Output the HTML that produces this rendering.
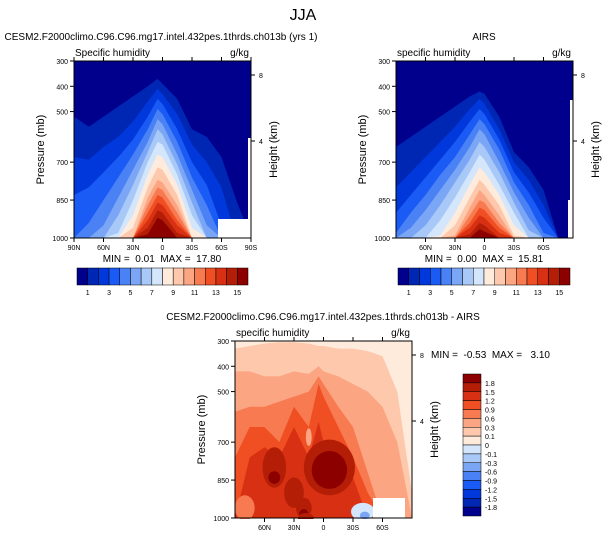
<!DOCTYPE html>
<html><head><meta charset="utf-8">
<style>
html,body{margin:0;padding:0;background:#fff;}
svg{display:block;font-family:"Liberation Sans",sans-serif;}
</style></head>
<body>
<svg id="c" width="606" height="538" viewBox="0 0 606 538" xmlns="http://www.w3.org/2000/svg"></svg>
<script>
const lats=[90,75,60,45,30,15,5,0,-15,-30,-45,-60,-75,-90];
const qColors=["#00008c","#0026b4","#0038dc","#1a5af5","#4a82f5","#7ba6f5","#a8c8f8","#d4e6fb","#feebdc","#fdc8ab","#fca583","#f87a50","#f04e23","#d83012","#b41e06","#8c0000"];
const qBarLabels=["1","3","5","7","9","11","13","15"];
const diffBarLabels=["1.8","1.5","1.2","0.9","0.6","0.3","0.1","0","-0.1","-0.3","-0.6","-0.9","-1.2","-1.5","-1.8"];
const modelLevels=[
[520,560,520,480,440,400,370,390,450,570,600,680,850,1000],
[680,690,640,600,540,460,410,430,510,630,700,800,1000,1000],
[830,800,740,680,610,520,450,470,570,700,790,950,1000,1000],
[1000,940,850,760,670,570,490,510,620,760,870,1000,1000,1000],
[1000,1000,950,840,730,620,530,550,670,810,950,1000,1000,1000],
[1000,1000,1000,910,790,660,570,590,710,860,1000,1000,1000,1000],
[1000,1000,1000,980,850,700,620,630,750,910,1000,1000,1000,1000],
[1000,1000,1000,1000,910,750,670,680,790,960,1000,1000,1000,1000],
[1000,1000,1000,1000,960,800,720,730,830,1000,1000,1000,1000,1000],
[1000,1000,1000,1000,1000,840,770,780,870,1000,1000,1000,1000,1000],
[1000,1000,1000,1000,1000,870,800,810,900,1000,1000,1000,1000,1000],
[1000,1000,1000,1000,1000,900,830,840,930,1000,1000,1000,1000,1000],
[1000,1000,1000,1000,1000,930,860,870,950,1000,1000,1000,1000,1000],
[1000,1000,1000,1000,1000,960,890,900,980,1000,1000,1000,1000,1000],
[1000,1000,1000,1000,1000,985,920,930,1000,1000,1000,1000,1000,1000]];
const airsLevels=[
[640,600,560,520,480,440,420,430,520,660,720,810,1000,1000],
[800,740,680,620,560,490,450,470,570,700,770,870,1000,1000],
[900,830,760,690,620,540,490,510,610,740,820,920,1000,1000],
[980,900,830,750,680,590,530,550,650,780,870,980,1000,1000],
[1000,960,890,810,730,640,570,590,700,820,920,1000,1000,1000],
[1000,1000,950,870,780,690,620,640,740,860,970,1000,1000,1000],
[1000,1000,1000,930,840,740,670,690,790,900,1000,1000,1000,1000],
[1000,1000,1000,990,900,790,720,740,830,950,1000,1000,1000,1000],
[1000,1000,1000,1000,950,840,770,790,870,990,1000,1000,1000,1000],
[1000,1000,1000,1000,990,880,810,830,910,1000,1000,1000,1000,1000],
[1000,1000,1000,1000,1000,910,850,860,940,1000,1000,1000,1000,1000],
[1000,1000,1000,1000,1000,940,880,890,960,1000,1000,1000,1000,1000],
[1000,1000,1000,1000,1000,960,910,920,980,1000,1000,1000,1000,1000],
[1000,1000,1000,1000,1000,985,940,950,1000,1000,1000,1000,1000,1000],
[1000,1000,1000,1000,1000,1000,965,975,1000,1000,1000,1000,1000,1000]];
const diffBaseLevels=[
[330,320,310,305,305,310,320,320,330,330,340,360,500,900],
[420,420,440,440,420,430,400,420,440,470,500,560,700,1000],
[580,560,560,540,520,500,440,470,560,640,820,1000,1000,1000],
[760,640,640,700,560,640,470,520,640,760,900,1000,1000,1000],
[1000,760,720,760,640,760,620,700,760,840,1000,1000,1000,1000]];
const diffBaseBins=[9,10,11,12,13];
const blobLat=[80,50,50,30,20,20,-6,-6,18,15,-40,-42];
const blobP=[960,800,840,900,960,990,800,810,1000,680,975,990];
const blobRLat=[10,12,6,10,8,5,26,18,8,3,12,5];
const blobRP=[50,80,25,60,40,25,110,75,20,35,35,15];
const blobBin=[11,14,15,14,14,15,14,15,14,10,7,5];

const svg=document.getElementById('c');
const NS="http://www.w3.org/2000/svg";
function mk(tag,attrs,parent){const e=document.createElementNS(NS,tag);for(const k in attrs)e.setAttribute(k,attrs[k]);(parent||svg).appendChild(e);return e;}
function txt(s,x,y,size,anchor,parent,rot){const t=mk('text',{x:x,y:y,'font-size':size,'text-anchor':anchor||'start',fill:'#000'},parent);t.style.whiteSpace='pre';if(rot)t.setAttribute('transform','rotate(-90 '+x+' '+y+')');t.textContent=s;return t;}

function panel(px,py,w,h,name,levels,bins,startColor){
  const g=mk('g',{});
  
  
  const xs=lat=>px+(90-lat)/180*w;
  const ys=p=>py+(Math.min(p,1000)-300)/700*h;
  const bg=mk('rect',{x:px,y:py,width:w,height:h,fill:startColor},g);
  
  
  levels.forEach((lv,i)=>{
    let pts=[[xs(90),ys(1000)]];
    lats.forEach((la,j)=>pts.push([xs(la),ys(lv[j])]));
    pts.push([xs(-90),ys(1000)]);
    const pg=mk('polygon',{points:pts.map(p=>p.join(',')).join(' '),fill:qColors[bins[i]]},g);
    
    
  });
  return {g,xs,ys};
}

function axes(px,py,w,h,ticks,left,sub,unit){
  const g=mk('g',{});
  
  
  mk('rect',{x:px,y:py,width:w,height:h,fill:'none',stroke:'#000','stroke-width':1},g);
  [300,400,500,700,850,1000].forEach(p=>{
    const y=py+(p-300)/700*h;
    mk('line',{x1:px-4,x2:px,y1:y,y2:y,stroke:'#000'},g);
    if(left){txt(String(p),px-6,y+3,7,'end',g);}
  });
  ticks.forEach(([lat,l])=>{
    const x=px+(90-lat)/180*w;
    mk('line',{x1:x,x2:x,y1:py+h,y2:py+h+4,stroke:'#000'},g);
    mk('line',{x1:x,x2:x,y1:py,y2:py-4,stroke:'#000'},g);
    txt(l,x,py+h+12,7,'middle',g);
  });
  [[8,75],[4,141]].forEach(([k,y])=>{
    const yy=py+(y-61);
    mk('line',{x1:px+w,x2:px+w+4,y1:yy,y2:yy,stroke:'#000'},g);
    txt(String(k),px+w+8,yy+3,7,'start',g);
  });
  if(left){const t=txt('Pressure (mb)',px-30,py+h/2,11,'middle',g,true);}
  const r=txt('Height (km)',px+w+26,py+h/2,11,'middle',g,true);
  const s=txt(sub,px+1,py-5,10,'start',g);
  const u=txt(unit,px+w-2,py-5,10,'end',g);
}

function hbar(x,y,w,h,name){
  const g=mk('g',{});
  
  
  const n=qColors.length,cw=w/n;
  qColors.forEach((c,i)=>mk('rect',{x:x+i*cw,y:y,width:cw,height:h,fill:c,stroke:'#000','stroke-width':0.5},g));
  qBarLabels.forEach((l,i)=>txt(l,x+(2*i+1)*cw,y+h+10,7,'middle',g));
}

const tt=txt('JJA',303,20,16,'middle');

const bins16=[1,2,3,4,5,6,7,8,9,10,11,12,13,14,15];
panel(74,61,177,177,'model-panel',modelLevels,bins16,qColors[0]);
mk('rect',{x:218,y:219,width:33.5,height:19.5,fill:'#fff'});
mk('rect',{x:248,y:138,width:3.5,height:100,fill:'#fff'});
const t1=txt('CESM2.F2000climo.C96.C96.mg17.intel.432pes.1thrds.ch013b (yrs 1)',161,40,10,'middle');
axes(74,61,177,177,[[90,'90N'],[60,'60N'],[30,'30N'],[0,'0'],[-30,'30S'],[-60,'60S'],[-90,'90S']],true,'Specific humidity','g/kg');
const m1=txt('MIN =  0.01  MAX =  17.80',162,262,10,'middle');
hbar(77,268,171,17,'model-colorbar');

panel(396,61,177,177,'airs-panel',airsLevels,bins16,qColors[0]);
mk('rect',{x:570,y:100,width:3,height:100,fill:'#fff'});
mk('rect',{x:568,y:200,width:5,height:38,fill:'#fff'});
const t2=txt('AIRS',484,40,10,'middle');
axes(396,61,177,177,[[60,'60N'],[30,'30N'],[0,'0'],[-30,'30S'],[-60,'60S']],true,'specific humidity','g/kg');
const m2=txt('MIN =  0.00  MAX =  15.81',484,262,10,'middle');
hbar(398,268,172,17,'airs-colorbar');

const p3=panel(235,341,177,177,'difference-panel',diffBaseLevels,diffBaseBins,qColors[8]);
blobLat.forEach((la,i)=>{
  const e=mk('ellipse',{cx:p3.xs(blobLat[i]),cy:p3.ys(blobP[i]),rx:blobRLat[i]/180*177,ry:blobRP[i]/700*177,fill:qColors[blobBin[i]]},p3.g);
  
  
});
mk('rect',{x:234,y:519,width:180,height:19,fill:'#fff'});
mk('rect',{x:234,y:332,width:180,height:8.5,fill:'#fff'});
mk('rect',{x:373,y:498,width:32,height:20,fill:'#fff'});
const t3=txt('CESM2.F2000climo.C96.C96.mg17.intel.432pes.1thrds.ch013b - AIRS',323,320,10,'middle');
axes(235,341,177,177,[[60,'60N'],[30,'30N'],[0,'0'],[-30,'30S'],[-60,'60S']],true,'specific humidity','g/kg');
const m3=txt('MIN =  -0.53  MAX =   3.10',431,358,10,'start');

(function(){
  const g=mk('g',{});
  
  
  const x=463,y=374,w=18,h=142,n=16,ch=h/n;
  for(let i=0;i<n;i++){mk('rect',{x:x,y:y+i*ch,width:w,height:ch,fill:qColors[n-1-i],stroke:'#000','stroke-width':0.5},g);}
  diffBarLabels.forEach((l,i)=>txt(l,x+w+4,y+(i+1)*ch+3,7,'start',g));
})();
</script>
</body></html>
